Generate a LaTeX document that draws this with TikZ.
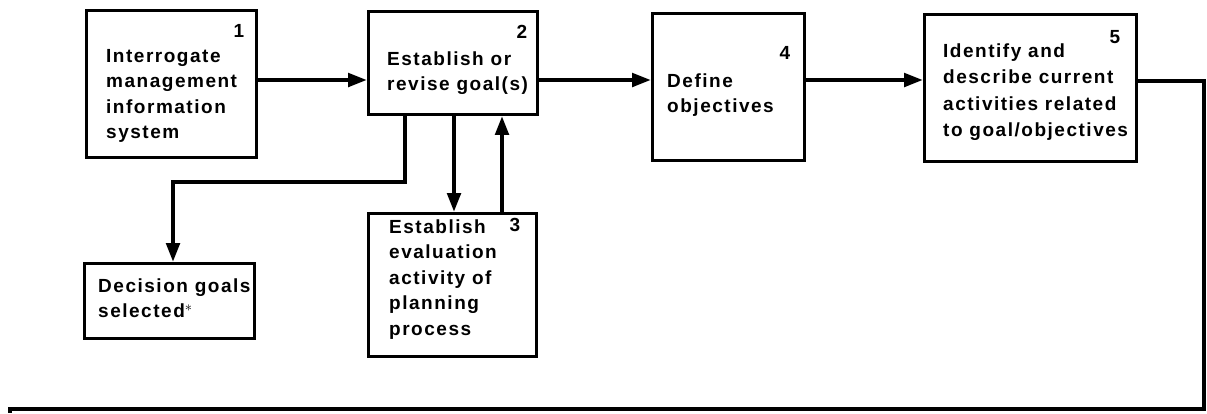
\documentclass[tikz,border=0pt]{standalone}
\usepackage{fontspec}
\setmainfont{Liberation Sans}[LetterSpace=8]
\usetikzlibrary{arrows.meta}
\begin{document}
\begin{tikzpicture}[x=1pt,y=-1pt,
  box/.style={draw, line width=2.6pt, inner sep=0pt},
  conn/.style={line width=4.5pt, line join=miter},
  arr/.style={conn, -{Triangle[length=19pt,width=13pt]}},
  txt/.style={anchor=base west, align=left, inner sep=0pt, font=\fontsize{19}{25.5}\selectfont\bfseries},
  txtw/.style={txt, font=\fontsize{19}{26.5}\selectfont\bfseries},
  num/.style={inner sep=0pt, font=\fontsize{19}{20}\selectfont\bfseries}]
\useasboundingbox (0,0) rectangle (1207,413);
% boxes
\node[box, minimum width=170pt, minimum height=147pt] (b1) at (171.5,84) {};
\node[box, minimum width=169pt, minimum height=103pt] (b2) at (453,63) {};
\node[box, minimum width=152pt, minimum height=147pt] (b4) at (728.5,87) {};
\node[box, minimum width=212pt, minimum height=147pt] (b5) at (1030.5,88) {};
\node[box, minimum width=168pt, minimum height=143pt] (b3) at (452.5,285) {};
\node[box, minimum width=170pt, minimum height=75pt] (bd) at (169.5,301) {};
% texts (anchored at the baseline of the last line)
\node[txt] (t1) at (106,138.5) {Interrogate\\management\\information\\system};
\node[txt] (t2) at (387,90.5) {Establish or\\revise goal(s)};
\node[txt] (t4) at (667,112.5) {Define\\objectives};
\node[txtw] (t5) at (943,136.5) {Identify and\\describe current\\activities related\\to goal/objectives};
\node[txt] (t3) at (389,335) {Establish\\evaluation\\activity of\\planning\\process};
\node[txt] (td) at (98,317.5) {Decision goals\\selected$^{\ast}$};
% numbers
\node[num] (n1) at (239,31) {1};
\node[num] (n2) at (522,32) {2};
\node[num] (n4) at (785,53) {4};
\node[num] (n5) at (1115,37) {5};
\node[num] (n3) at (515,225) {3};
% helper coordinates
\coordinate (row) at (0,80);
\coordinate (k1) at (405,182);
\coordinate (k2) at (173,182);
\coordinate (xa) at (454,0);
\coordinate (xb) at (502,0);
\coordinate (o1) at (1204,81);
\coordinate (o2) at (1204,409);
\coordinate (o3) at (10,409);
\coordinate (o4) at (10,413);
% connectors
\draw[arr] (b1.east |- row) -- (b2.west |- row);
\draw[arr] (b2.east |- row) -- (b4.west |- row);
\draw[arr] (b4.east |- row) -- (b5.west |- row);
\draw[conn] (b5.east |- o1) -- (o1) -- (o2) -- (o3) -- (o4);
\draw[arr] (b2.south -| k1) -- (k1) -- (k2) -- (bd.north -| k2);
\draw[arr] (b2.south -| xa) -- (b3.north -| xa);
\draw[arr] (b3.north -| xb) -- (b2.south -| xb);
\end{tikzpicture}
\end{document}
